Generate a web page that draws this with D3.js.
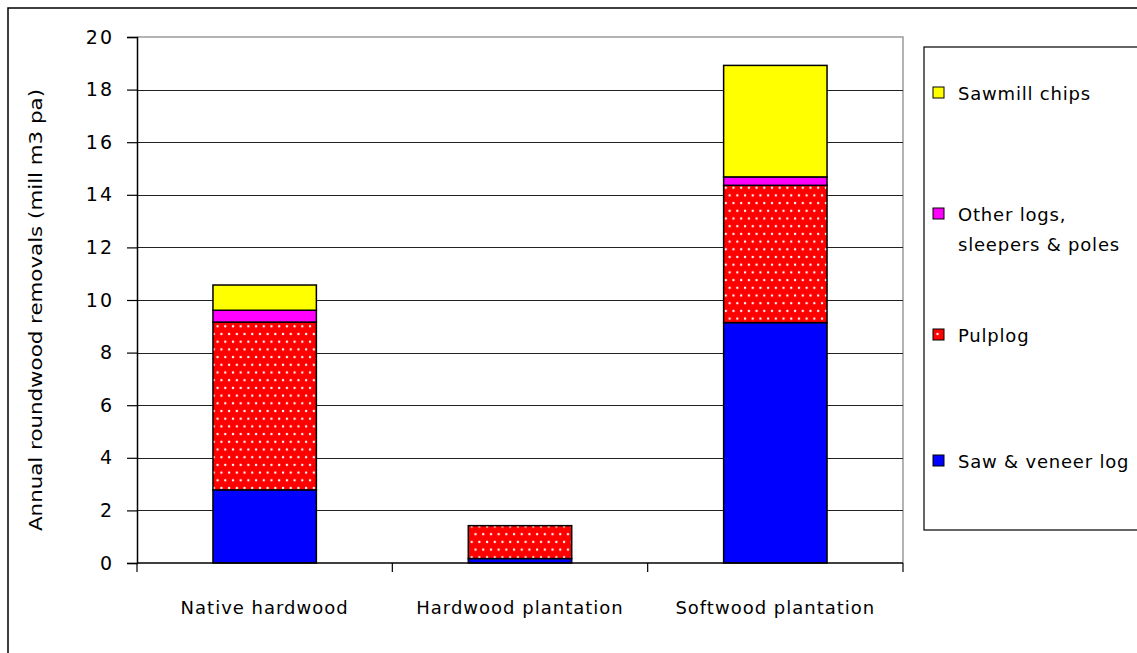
<!DOCTYPE html>
<html>
<head>
<meta charset="utf-8">
<script src="https://cdn.jsdelivr.net/npm/d3@7"></script>
<style>
  html, body { margin: 0; padding: 0; background: #fff; }
  svg { display: block; }
  text { font-family: "DejaVu Sans", Verdana, sans-serif; fill: #000; }
</style>
</head>
<body>
<svg id="chart" width="1137" height="653"></svg>
<script>
// Categories and stacked series (million m3 per annum)
const categories = ["Native hardwood", "Hardwood plantation", "Softwood plantation"];
const sawVeneer  = [2.78, 0.17, 9.14];
const pulplog    = [6.38, 1.25, 5.22];
const otherLogs  = [0.45, 0.00, 0.32];
const sawmillChips = [0.96, 0.00, 4.24];

const seriesNames = ["Saw & veneer log", "Pulplog", "Other logs, sleepers & poles", "Sawmill chips"];
const seriesKeys  = ["saw", "pulp", "other", "chips"];
const yTicks = [0, 2, 4, 6, 8, 10, 12, 14, 16, 18, 20];

const rows = categories.map((c, i) => ({
  category: c,
  saw: sawVeneer[i],
  pulp: pulplog[i],
  other: otherLogs[i],
  chips: sawmillChips[i]
}));

const svg = d3.select("#chart");
const plot = { left: 137, right: 903, top: 37, bottom: 563 };

// Dotted fill used for the pulplog series
const defs = svg.append("defs");
const pat = defs.append("pattern")
  .attr("id", "dots")
  .attr("patternUnits", "userSpaceOnUse")
  .attr("width", 7.7).attr("height", 15.4);
pat.append("rect").attr("width", 7.7).attr("height", 15.4).attr("fill", "#ff0000");
pat.append("circle").attr("cx", 2).attr("cy", 3).attr("r", 1.2).attr("fill", "#fff");
pat.append("circle").attr("cx", 5.85).attr("cy", 10.7).attr("r", 1.2).attr("fill", "#fff");

// Outer chart frame
svg.append("rect")
  .attr("x", 8).attr("y", 8).attr("width", 1160).attr("height", 680)
  .attr("fill", "none").attr("stroke", "#000").attr("stroke-width", 1.5);

const x = d3.scaleBand()
  .domain(categories)
  .range([plot.left, plot.right])
  .paddingInner(0.595)
  .paddingOuter(0.2975);

const y = d3.scaleLinear().domain([0, 20]).range([plot.bottom, plot.top]);

// Plot area border (grey top and right)
svg.append("path")
  .attr("d", `M${plot.left},${plot.top}H${plot.right}V${plot.bottom}`)
  .attr("fill", "none").attr("stroke", "#9a9a9a").attr("stroke-width", 1.5);

// Horizontal gridlines
svg.append("g")
  .selectAll("line")
  .data(yTicks.filter(t => t > 0 && t < 20))
  .join("line")
  .attr("x1", plot.left).attr("x2", plot.right)
  .attr("y1", d => Math.round(y(d)) + 0.5).attr("y2", d => Math.round(y(d)) + 0.5)
  .attr("stroke", "#222").attr("stroke-width", 1);

// Stacked bars
const stack = d3.stack().keys(seriesKeys);
const layers = stack(rows);
const fills = { saw: "#0000ff", pulp: "url(#dots)", other: "#ff00ff", chips: "#ffff00" };

svg.append("g")
  .selectAll("g")
  .data(layers)
  .join("g")
  .attr("fill", d => fills[d.key])
  .selectAll("rect")
  .data(d => d.filter(s => s[1] - s[0] > 0))
  .join("rect")
  .attr("x", d => x(d.data.category))
  .attr("width", x.bandwidth())
  .attr("y", d => y(d[1]))
  .attr("height", d => y(d[0]) - y(d[1]))
  .attr("stroke", "#000")
  .attr("stroke-width", 1.5);

// Y axis
const yAxis = d3.axisLeft(y).tickValues(yTicks).tickSize(10).tickPadding(13).tickFormat(d3.format("d"));
const gy = svg.append("g").attr("transform", `translate(${plot.left},0)`).call(yAxis);
gy.select(".domain").attr("stroke", "#000").attr("stroke-width", 1.5);
gy.selectAll(".tick line").attr("stroke", "#000").attr("stroke-width", 1.2);
gy.selectAll(".tick text")
  .attr("font-family", "DejaVu Sans, sans-serif")
  .attr("font-size", 19)
  .attr("letter-spacing", 2);

// X axis: ticks at category boundaries
const step = x.step();
const bounds = d3.range(categories.length + 1).map(i => plot.left + i * step);
svg.append("line")
  .attr("x1", plot.left).attr("x2", plot.right)
  .attr("y1", plot.bottom).attr("y2", plot.bottom)
  .attr("stroke", "#000").attr("stroke-width", 1.5);
svg.append("g").selectAll("line")
  .data(bounds)
  .join("line")
  .attr("x1", d => d).attr("x2", d => d)
  .attr("y1", plot.bottom).attr("y2", plot.bottom + 9)
  .attr("stroke", "#000").attr("stroke-width", 1.2);

svg.append("g").selectAll("text")
  .data(categories)
  .join("text")
  .attr("x", d => x(d) + x.bandwidth() / 2)
  .attr("y", 614)
  .attr("text-anchor", "middle")
  .attr("font-size", 18)
  .attr("letter-spacing", 1)
  .text(d => d);

// Y axis title
svg.append("text")
  .attr("transform", `translate(42,${(plot.top + plot.bottom) / 2 + 10}) rotate(-90)`)
  .attr("text-anchor", "middle")
  .attr("font-family", "Liberation Sans, Arial, sans-serif")
  .attr("font-size", 17)
  .attr("textLength", 442)
  .attr("lengthAdjust", "spacingAndGlyphs")
  .text("Annual roundwood removals (mill m3 pa)");

// Legend
const legend = svg.append("g");
legend.append("rect")
  .attr("x", 924).attr("y", 47).attr("width", 260).attr("height", 483)
  .attr("fill", "#fff").attr("stroke", "#000").attr("stroke-width", 1.2);

const legendItems = [
  { name: "Sawmill chips", lines: ["Sawmill chips"], fill: "#ffff00", y: 100 },
  { name: "Other logs, sleepers & poles", lines: ["Other logs,", "sleepers & poles"], fill: "#ff00ff", y: 221 },
  { name: "Pulplog", lines: ["Pulplog"], fill: "url(#dots)", y: 342 },
  { name: "Saw & veneer log", lines: ["Saw & veneer log"], fill: "#0000ff", y: 468 }
];
const li = legend.selectAll("g.item").data(legendItems).join("g").attr("class", "item");
li.append("rect")
  .attr("x", 933).attr("y", d => d.y - 13)
  .attr("width", 11).attr("height", 11)
  .attr("fill", d => d.fill).attr("stroke", "#000").attr("stroke-width", 1);
li.append("text")
  .attr("x", 958).attr("y", d => d.y)
  .attr("font-size", 18)
  .attr("letter-spacing", 0.8)
  .selectAll("tspan")
  .data(d => d.lines)
  .join("tspan")
  .attr("x", 958)
  .attr("dy", (d, i) => i === 0 ? 0 : 30)
  .text(d => d);
</script>
</body>
</html>
